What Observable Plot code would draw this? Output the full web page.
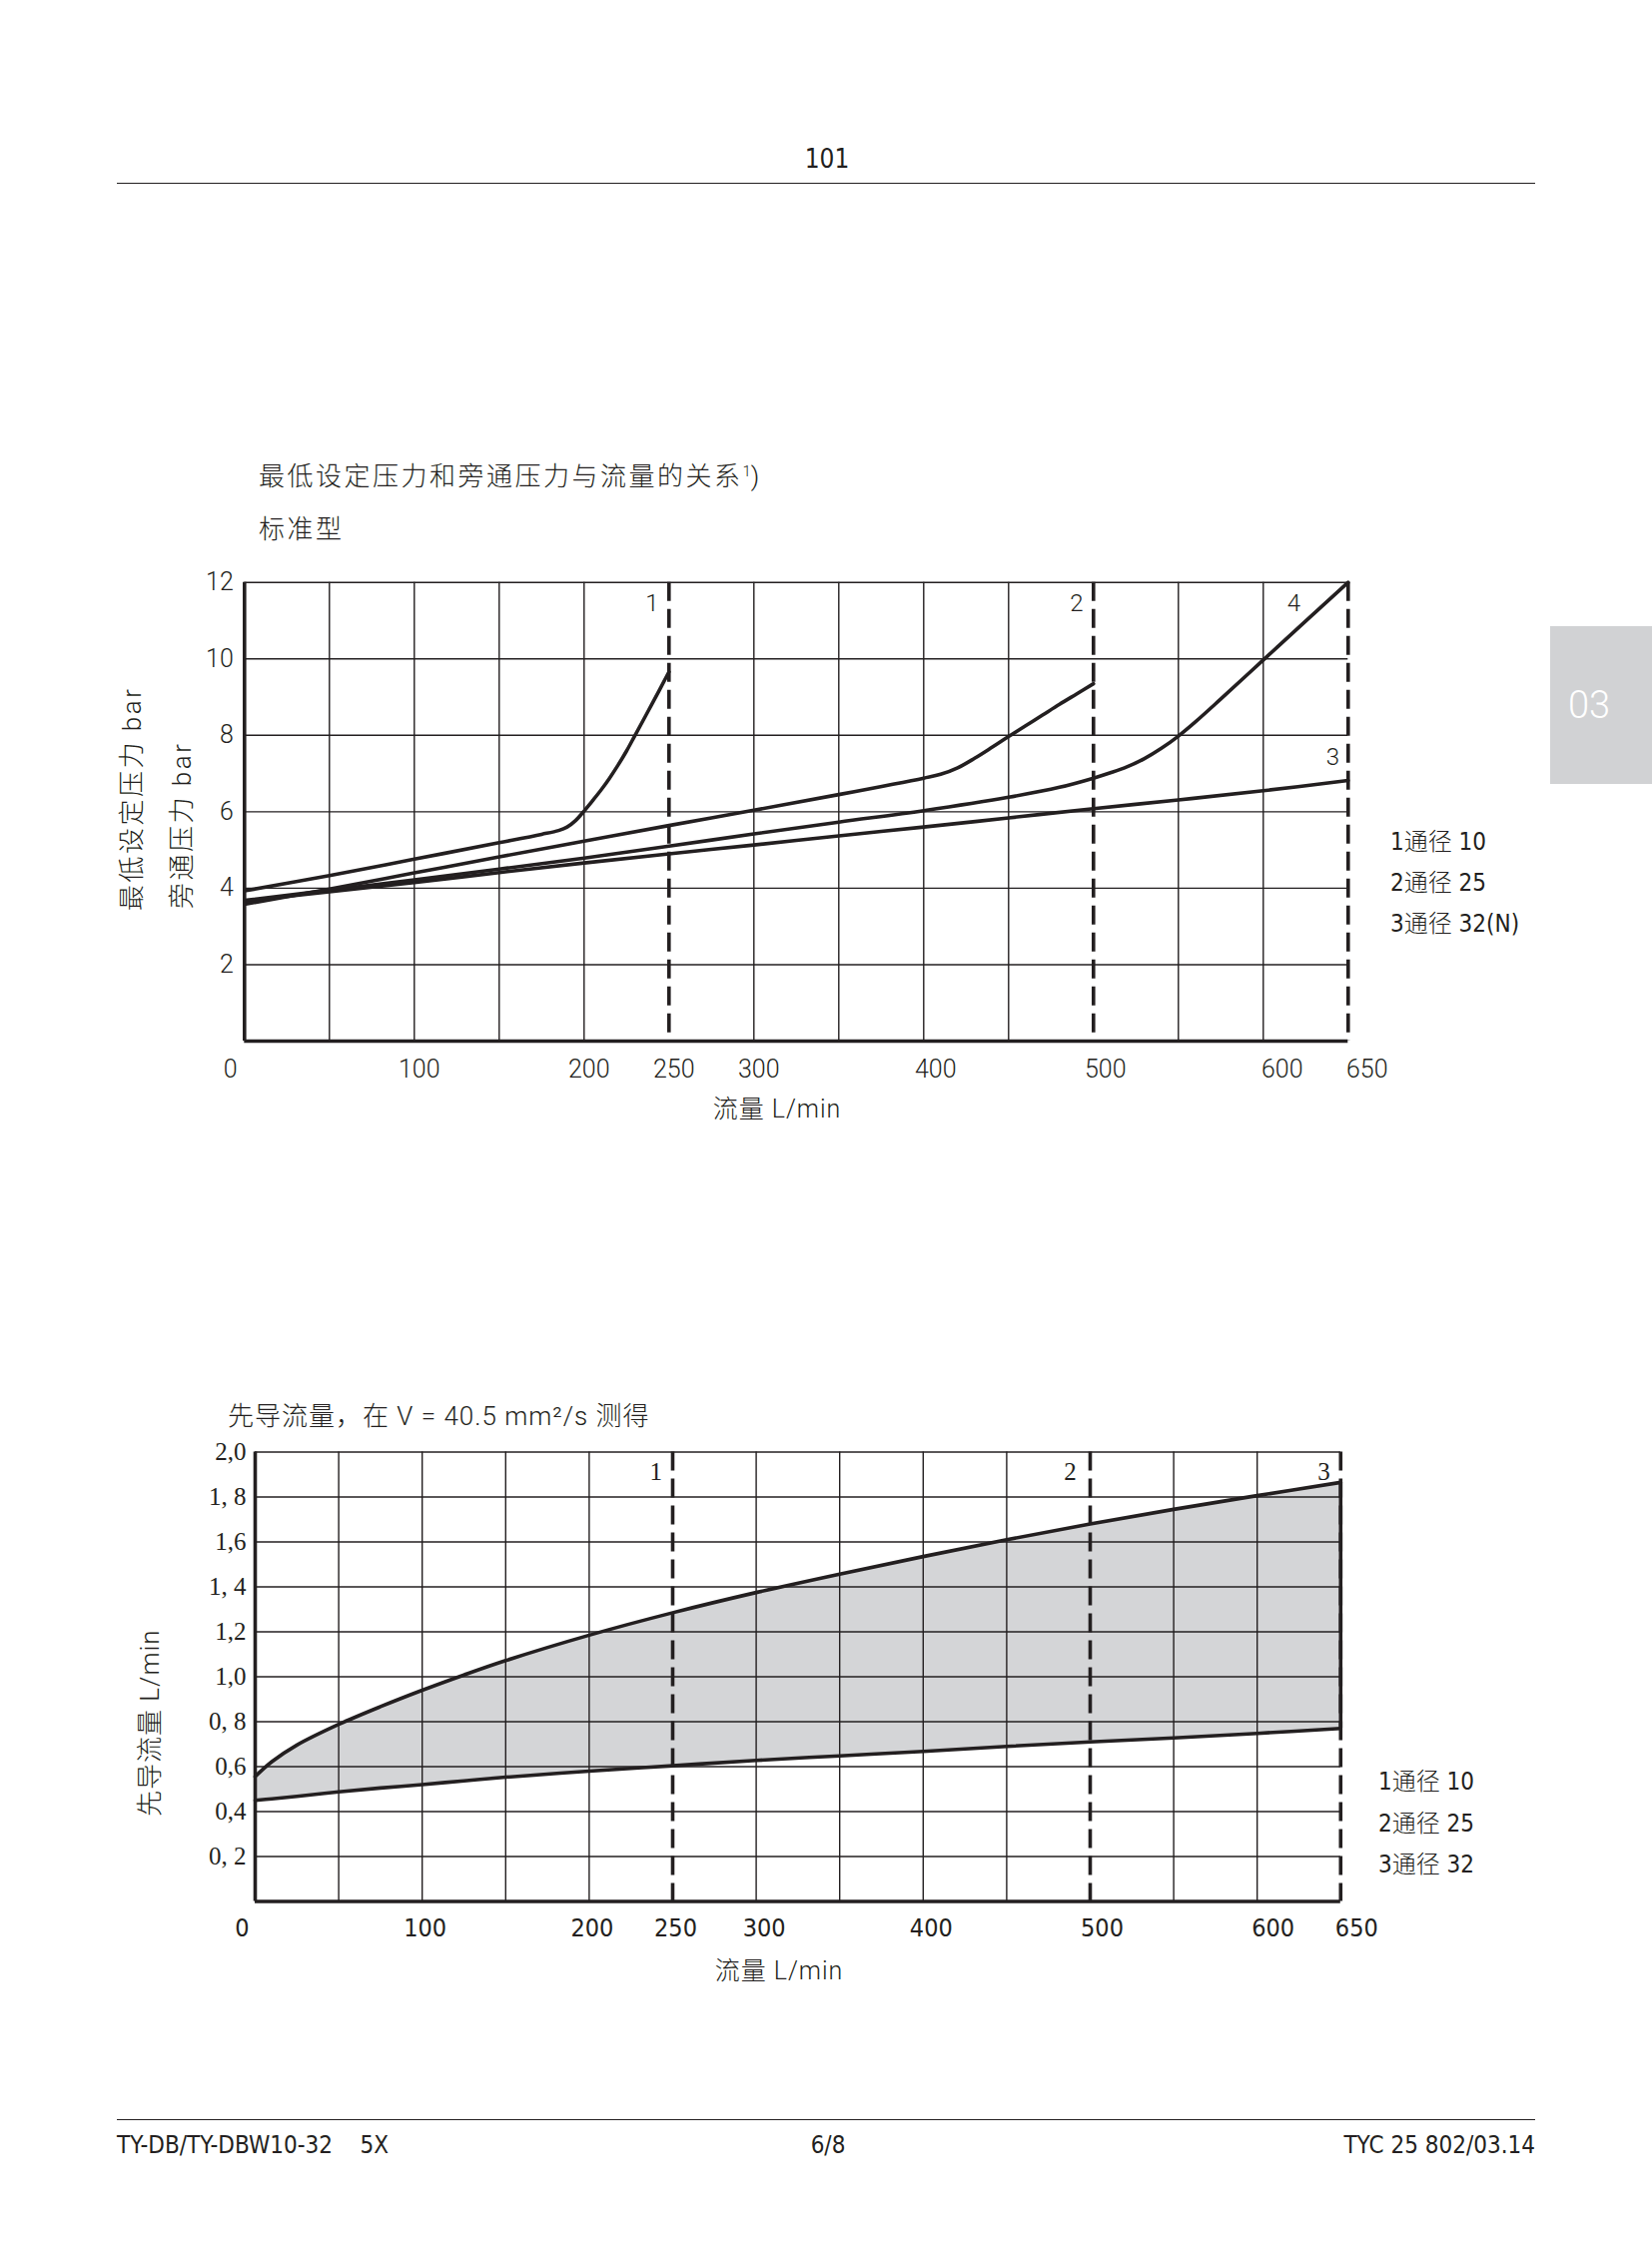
<!DOCTYPE html>
<html>
<head>
<meta charset="utf-8">
<script src="https://cdn.jsdelivr.net/npm/d3@7"></script>
<script src="https://cdn.jsdelivr.net/npm/@observablehq/plot@0.6"></script>
<style>
  html, body { margin: 0; padding: 0; background: #fff; }
  #page { position: relative; width: 1654px; height: 2245px; overflow: hidden; background: #fff; color: #231f20; }
  .t { position: absolute; white-space: nowrap; line-height: 1; }
  .c { transform: translate(-50%, -50%); }
  .l { transform: translate(0, -50%); }
  .r { transform: translate(-100%, -50%); }
  .v { transform-origin: 0 0; transform: rotate(-90deg) translateY(-50%); }
  .sans { font-family: Roboto, "Liberation Sans", "Noto Sans CJK SC", sans-serif; font-weight: 300; }
  .cjk { font-family: Roboto, "Liberation Sans", "Noto Sans CJK SC", sans-serif; font-weight: 300; letter-spacing: 2.5px; }
  .cond { font-family: "Liberation Sans Narrow", "DejaVu Sans Condensed", "Noto Sans CJK SC", sans-serif; font-weight: 300; }
  .hline { position: absolute; height: 0; border-top: 1.6px solid #231f20; }
</style>
</head>
<body>
<div id="page">
  <div class="t c cond" style="left:828px; top:159px; font-size:26px;">101</div>
  <div class="hline" style="left:117px; top:183px; width:1420px;"></div>

  <div style="position:absolute; left:1552px; top:627px; width:102px; height:158px; background:#d1d2d4;"></div>
  <div class="t c sans" style="left:1591px; top:706px; font-size:38px; color:#fff;">03</div>

  <div class="t l cjk" style="left:259px; top:477px; font-size:26px;">最低设定压力和旁通压力与流量的关系<sup style="font-size:15px; vertical-align: 9px; letter-spacing:0;">1</sup>)</div>
  <div class="t l cjk" style="left:259px; top:530px; font-size:26px;">标准型</div>

  <div class="t v cjk" style="left:132px; top:912px; font-size:26px;">最低设定压力 bar</div>
  <div class="t v cjk" style="left:182px; top:910px; font-size:26px;">旁通压力 bar</div>

  <div class="t c cjk" style="left:778px; top:1110px; font-size:25px; letter-spacing:1px;">流量 L/min</div>

  <div class="t l cond" style="left:1392px; top:843px; font-size:24px;">1通径 10</div>
  <div class="t l cond" style="left:1392px; top:884px; font-size:24px;">2通径 25</div>
  <div class="t l cond" style="left:1392px; top:925px; font-size:24px;">3通径 32(N)</div>

  <div class="t l cjk" style="left:228px; top:1418px; font-size:26px; letter-spacing:1px;">先导流量，在 V = 40.5 mm²/s 测得</div>
  <div class="t v cjk" style="left:150px; top:1819px; font-size:26px; letter-spacing:1px;">先导流量 L/min</div>
  <div class="t c cjk" style="left:780px; top:1973px; font-size:25px; letter-spacing:1px;">流量 L/min</div>

  <div class="t l cond" style="left:1380px; top:1784px; font-size:24px;">1通径 10</div>
  <div class="t l cond" style="left:1380px; top:1826px; font-size:24px;">2通径 25</div>
  <div class="t l cond" style="left:1380px; top:1867px; font-size:24px;">3通径 32</div>

  <div class="hline" style="left:117px; top:2122px; width:1420px;"></div>
  <div class="t l cond" style="left:117px; top:2148px; font-size:24px;">TY-DB/TY-DBW10-32&nbsp;&nbsp;&nbsp;&nbsp;5X</div>
  <div class="t c cond" style="left:829px; top:2148px; font-size:24px;">6/8</div>
  <div class="t r cond" style="left:1537px; top:2148px; font-size:24px;">TYC 25 802/03.14</div>
</div>
<script>
// ---------- data: top chart (minimum set pressure / bypass pressure vs flow) ----------
const curve1X = [0, 50, 100, 150, 175, 185, 190, 195, 200, 205, 210, 215, 220, 225, 230, 240, 250];
const curve1Y = [3.93, 4.33, 4.76, 5.19, 5.41, 5.51, 5.60, 5.77, 6.02, 6.29, 6.57, 6.88, 7.22, 7.59, 8.0, 8.82, 9.66];
const curve2X = [0, 50, 100, 150, 200, 250, 300, 350, 400, 410, 420, 430, 440, 450, 460, 470, 480, 490, 500];
const curve2Y = [3.58, 3.98, 4.40, 4.82, 5.23, 5.64, 6.04, 6.45, 6.88, 6.98, 7.15, 7.40, 7.68, 7.97, 8.25, 8.53, 8.81, 9.08, 9.35];
const curve3X = [0, 50, 100, 150, 200, 250, 300, 350, 400, 450, 500, 550, 600, 650];
const curve3Y = [3.66, 3.91, 4.15, 4.41, 4.66, 4.90, 5.13, 5.37, 5.60, 5.84, 6.08, 6.31, 6.55, 6.82];
const curve4X = [0, 50, 100, 150, 200, 250, 300, 350, 400, 450, 480, 500, 510, 520, 530, 540, 550, 560, 575, 600, 625, 650];
const curve4Y = [3.68, 3.95, 4.22, 4.50, 4.79, 5.10, 5.42, 5.73, 6.03, 6.38, 6.64, 6.88, 7.02, 7.18, 7.39, 7.66, 7.98, 8.35, 8.95, 9.97, 10.99, 12.0];
const topLimits = [250, 500, 650];            // dashed max-flow lines (NG10, NG25, NG32)
const topGridX = [50, 100, 150, 200, 300, 350, 400, 450, 550, 600];
const topGridY = [2, 4, 6, 8, 10, 12];
const topTicksY = [2, 4, 6, 8, 10, 12];
const topLabelX = [240, 490, 618, 641];
const topLabelY = [11.44, 11.44, 11.44, 7.43];
const topLabelText = ["1", "2", "4", "3"];

// ---------- data: bottom chart (pilot flow) ----------
const pilotX = [0, 10, 25, 50, 75, 100, 125, 150, 200, 250, 300, 350, 400, 450, 500, 550, 600, 650];
const pilotHigh = [0.556, 0.622, 0.696, 0.788, 0.867, 0.940, 1.008, 1.072, 1.185, 1.285, 1.375, 1.457, 1.535, 1.610, 1.680, 1.745, 1.806, 1.865];
const pilotLow = [0.45, 0.457, 0.468, 0.488, 0.505, 0.52, 0.537, 0.553, 0.58, 0.604, 0.628, 0.648, 0.668, 0.69, 0.71, 0.728, 0.748, 0.77];
const botLimits = [250, 500, 650];
const botGridX = [50, 100, 150, 200, 300, 350, 400, 450, 550, 600];
const botGridY = [0.2, 0.4, 0.6, 0.8, 1.0, 1.2, 1.4, 1.6, 1.8, 2.0];
const botTicksY = [0.2, 0.4, 0.6, 0.8, 1.0, 1.2, 1.4, 1.6, 1.8, 2.0];
const botTickLabelsY = ["0, 2", "0,4", "0,6", "0, 8", "1,0", "1,2", "1, 4", "1,6", "1, 8", "2,0"];
const botLabelX = [240, 488, 640];
const botLabelY = [1.913, 1.913, 1.913];
const botLabelText = ["1", "2", "3"];

// x tick labels (values) grouped by small print offsets
const topTickGroups = [[0], [100, 200, 250, 300], [400, 500], [600, 650]];
const topTickDx = [-14, 5, 12, 19];
const botTickGroups = [[0], [100, 200, 250], [300, 400], [500], [600, 650]];
const botTickDx = [-13, 3, 8, 12, 16];

// ---------- drawing ----------
const ink = "#231f20";
const sansFont = "Roboto, 'Liberation Sans', sans-serif";
const condFont = "'Liberation Sans Narrow', 'DejaVu Sans Condensed', sans-serif";
const serifFont = "'Liberation Serif', 'DejaVu Serif', serif";
const rows = (xs, ys) => xs.map((x, i) => ({x, y: ys[i]}));
const curveStyle = {x: "x", y: "y", stroke: ink, strokeWidth: 3.6, curve: "catmull-rom"};
const dash = {stroke: ink, strokeWidth: 3.6, strokeDasharray: "19,8"};

const topPlot = Plot.plot({
  width: 1654, height: 601,
  marginLeft: 244.3, marginRight: 304.7, marginTop: 42.7, marginBottom: 99,
  x: {domain: [0, 650]},
  y: {domain: [0, 12]},
  style: {background: "transparent", overflow: "visible", color: ink, fontFamily: sansFont},
  marks: [
    Plot.ruleX(topGridX, {stroke: ink, strokeWidth: 1.4}),
    Plot.ruleY(topGridY, {stroke: ink, strokeWidth: 1.4}),
    Plot.line(rows(curve3X, curve3Y), curveStyle),
    Plot.line(rows(curve4X, curve4Y), curveStyle),
    Plot.line(rows(curve2X, curve2Y), curveStyle),
    Plot.line(rows(curve1X, curve1Y), curveStyle),
    Plot.ruleX(topLimits, dash),
    Plot.ruleX([0], {stroke: ink, strokeWidth: 3.6}),
    Plot.ruleY([0], {stroke: ink, strokeWidth: 3.6}),
    Plot.text(topLabelText.map((t, i) => ({t, x: topLabelX[i], y: topLabelY[i]})),
      {x: "x", y: "y", text: "t", fontSize: 24, fontWeight: 300, fill: ink}),
    Plot.axisY(topTicksY, {tickSize: 0, tickPadding: 11, fontSize: 25, fontWeight: 300, label: null}),
    ...topTickGroups.map((g, i) => Plot.axisX(g, {tickSize: 0, tickPadding: 19, fontSize: 25, fontWeight: 300, dx: topTickDx[i], label: null}))
  ]
});

const pilotRows = pilotX.map((x, i) => ({x, hi: pilotHigh[i], lo: pilotLow[i]}));
const lastPilot = pilotRows[pilotRows.length - 1];
const botLabelMap = new Map(botTicksY.map((v, i) => [Math.round(v * 10), botTickLabelsY[i]]));

const botPlot = Plot.plot({
  width: 1654, height: 600,
  marginLeft: 255, marginRight: 312.2, marginTop: 33.5, marginBottom: 116.5,
  x: {domain: [0, 650]},
  y: {domain: [0, 2]},
  style: {background: "transparent", overflow: "visible", color: ink, fontFamily: condFont},
  marks: [
    Plot.areaY(pilotRows, {x: "x", y1: "lo", y2: "hi", fill: "#d4d5d7", curve: "catmull-rom"}),
    Plot.ruleX(botGridX, {stroke: ink, strokeWidth: 1.4}),
    Plot.ruleY(botGridY, {stroke: ink, strokeWidth: 1.4}),
    Plot.line(pilotRows, {x: "x", y: "lo", stroke: ink, strokeWidth: 3.6, curve: "catmull-rom"}),
    Plot.line(pilotRows, {x: "x", y: "hi", stroke: ink, strokeWidth: 3.6, curve: "catmull-rom"}),
    Plot.ruleX(botLimits, dash),
    Plot.ruleX([lastPilot], {x: "x", y1: "lo", y2: "hi", stroke: ink, strokeWidth: 3.6}),
    Plot.ruleX([0], {stroke: ink, strokeWidth: 3.6}),
    Plot.ruleY([0], {stroke: ink, strokeWidth: 3.6}),
    Plot.text(botLabelText.map((t, i) => ({t, x: botLabelX[i], y: botLabelY[i]})),
      {x: "x", y: "y", text: "t", fontSize: 25, fontFamily: serifFont, fill: ink}),
    Plot.axisY(botTicksY, {tickSize: 0, tickPadding: 9, fontSize: 25, fontFamily: serifFont, label: null,
      tickFormat: (d) => botLabelMap.get(Math.round(d * 10))}),
    ...botTickGroups.map((g, i) => Plot.axisX(g, {tickSize: 0, tickPadding: 17, fontSize: 25, dx: botTickDx[i], label: null}))
  ]
});

const page = document.getElementById("page");
for (const [svg, top] of [[topPlot, 540], [botPlot, 1420]]) {
  svg.style.position = "absolute";
  svg.style.left = "0px";
  svg.style.top = top + "px";
  page.insertBefore(svg, page.firstChild);
}
</script>
</body>
</html>
